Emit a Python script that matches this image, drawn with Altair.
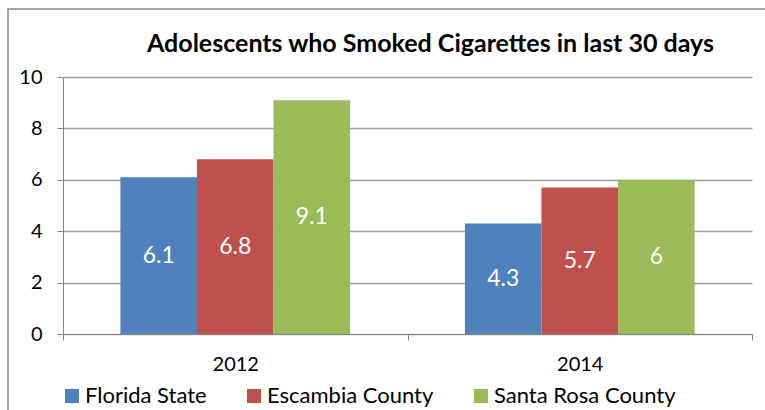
import altair as alt
import pandas as pd

years = ["2012", "2012", "2012", "2014", "2014", "2014"]
regions = ["Florida State", "Escambia County", "Santa Rosa County"] * 2
values = [6.1, 6.8, 9.1, 4.3, 5.7, 6.0]
labels = ["6.1", "6.8", "9.1", "4.3", "5.7", "6"]
region_order = ["Florida State", "Escambia County", "Santa Rosa County"]
colors = ["#4F81BD", "#C0504D", "#9BBB59"]

df = pd.DataFrame({"year": years, "region": regions, "value": values, "label": labels})

W, H = 689, 257
FONT = "Lato"

x = alt.X("year:N", title=None,
          scale=alt.Scale(paddingInner=0, paddingOuter=0),
          axis=alt.Axis(labelAngle=0, tickBand="extent", labelFontSize=20, labelFont=FONT,
                        labelColor="#000000", labelPadding=14, tickSize=6,
                        domainColor="#868686", tickColor="#868686", grid=False))
xo = alt.XOffset("region:N", sort=region_order,
                 scale=alt.Scale(paddingInner=0, paddingOuter=0.75))

base = alt.Chart(df)

bars = base.mark_bar().encode(
    x=x, xOffset=xo,
    y=alt.Y("value:Q", title=None,
            scale=alt.Scale(domain=[0, 10]),
            axis=alt.Axis(values=[0, 2, 4, 6, 8, 10], labelFontSize=20, labelFont=FONT,
                          labelColor="#000000", labelPadding=15, tickSize=6,
                          domainColor="#868686", tickColor="#868686",
                          gridColor="#A0A0A0", gridWidth=1.5)),
    color=alt.Color("region:N", sort=region_order,
                    scale=alt.Scale(domain=region_order, range=colors),
                    legend=alt.Legend(title=None, orient="none", direction="horizontal",
                                      legendX=-2, legendY=308, symbolType="square",
                                      symbolSize=196, symbolStrokeWidth=0,
                                      labelFontSize=22, labelFont=FONT, labelColor="#000000",
                                      labelLimit=400, columnPadding=36, labelOffset=2)),
)

text = base.transform_calculate(mid="datum.value / 2").mark_text(
    color="white", fontSize=23, font=FONT
).encode(x=x, xOffset=xo, y=alt.Y("mid:Q"), text="label:N")

frame_df = pd.DataFrame({"k": [0]})
frame = alt.Chart(frame_df).mark_rect(fill=None, stroke="#888888", strokeWidth=1.5).encode(
    x=alt.value(-55), x2=alt.value(W + 40), y=alt.value(-68), y2=alt.value(H + 120)
)

chart = alt.layer(frame, bars, text).properties(
    width=W, height=H,
    title=alt.TitleParams("Adolescents who Smoked Cigarettes in last 30 days",
                          font=FONT, fontSize=25, fontWeight="bold", color="#000000",
                          anchor="middle", dx=23, offset=0, dy=69, baseline="alphabetic",
                          frame="group"),
    autosize=alt.AutoSizeParams(type="none"),
    padding={"left": 63, "top": 77, "right": 13, "bottom": 76},
).configure_view(stroke=None)

chart.save("out.html", embed_options={"renderer": "svg", "actions": False})
